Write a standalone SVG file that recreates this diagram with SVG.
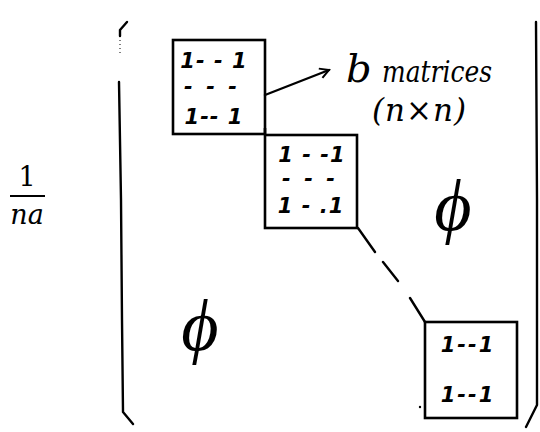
<svg xmlns="http://www.w3.org/2000/svg" width="540" height="432" viewBox="0 0 540 432">
  <style>
    .ink { fill: none; stroke: #000; stroke-width: 2.4; stroke-linecap: round; stroke-linejoin: round; }
    .box { fill: none; stroke: #000; stroke-width: 2.6; }
    .cell { font-family: "DejaVu Sans", sans-serif; font-style: italic; font-weight: bold; font-size: 21px; fill: #000; text-anchor: middle; }
    .hand { font-family: "DejaVu Serif", serif; font-style: italic; fill: #000; }
    .math { font-family: "DejaVu Serif", "Liberation Serif", serif; font-size: 27px; fill: #000; text-anchor: middle; }
    .phi { font-family: "Liberation Serif", "DejaVu Serif", serif; font-style: italic; font-size: 72px; fill: #000; text-anchor: middle; }
  </style>
  <defs>
    <marker id="open-arrow" viewBox="0 0 12 12" refX="10" refY="6" markerWidth="12" markerHeight="12" markerUnits="userSpaceOnUse" orient="auto">
      <path d="M1,1 L10,6 L1,11" fill="none" stroke="#000" stroke-width="2"/>
    </marker>
  </defs>

  <rect width="540" height="432" fill="#fff"/>

  <!-- scalar factor -->
  <g id="factor">
    <text class="math" x="27" y="186">1</text>
    <line x1="10" y1="196" x2="45" y2="196" stroke="#000" stroke-width="1.8"/>
    <text class="math" x="27" y="224" font-style="italic">na</text>
  </g>

  <!-- matrix brackets -->
  <g id="brackets">
    <path class="ink" d="M127,22 L120,30 L120,36"/>
    <path d="M120,40 L120,56" stroke="#000" stroke-width="1" stroke-dasharray="1 3" fill="none"/>
    <path class="ink" d="M119,82 L121,200 L122,320 L123,412 L133,424"/>
    <path class="ink" d="M536,22 L537,200 L537,405 L526,427"/>
  </g>

  <!-- diagonal blocks -->
  <g id="block1">
    <rect class="box" x="173" y="40" width="92" height="94"/>
    <text class="cell" x="214" y="68" letter-spacing="1">1- - 1</text>
    <text class="cell" x="212" y="94" letter-spacing="3">- - -</text>
    <text class="cell" x="214" y="124" letter-spacing="1">1-- 1</text>
  </g>
  <g id="block2">
    <rect class="box" x="265" y="135" width="92" height="93"/>
    <line x1="265" y1="128" x2="265" y2="135" stroke="#000" stroke-width="2.6"/>
    <text class="cell" x="312" y="162" letter-spacing="1">1 - -1</text>
    <text class="cell" x="310" y="186" letter-spacing="3">- - -</text>
    <text class="cell" x="311" y="213" letter-spacing="1">1 - .1</text>
  </g>
  <g id="block3">
    <rect class="box" x="425" y="322" width="92" height="96"/>
    <text class="cell" x="468" y="352" letter-spacing="2">1--1</text>
    <text class="cell" x="468" y="402" letter-spacing="2">1--1</text>
    <circle cx="420" cy="407" r="1.2" fill="#000"/>
  </g>

  <!-- zero regions -->
  <g id="zero-lower">
    <text class="phi" x="200" y="350">ϕ</text>
  </g>
  <g id="zero-upper">
    <text class="phi" x="453" y="230">ϕ</text>
  </g>

  <!-- annotation -->
  <g id="annotation">
    <text class="hand" x="346" y="82" font-size="40">b</text>
    <text class="hand" x="382" y="82" font-size="29" textLength="110" lengthAdjust="spacingAndGlyphs">matrices</text>
    <text class="hand" x="372" y="121" font-size="31" letter-spacing="1">(n×n)</text>
  </g>

  <!-- connectors -->
  <g id="connectors">
    <line class="ink" x1="265" y1="95" x2="329" y2="70" marker-end="url(#open-arrow)"/>
    <path class="ink" d="M358,228 L375,252 M383,262 L398,281 M410,298 L425,322"/>
  </g>
</svg>
